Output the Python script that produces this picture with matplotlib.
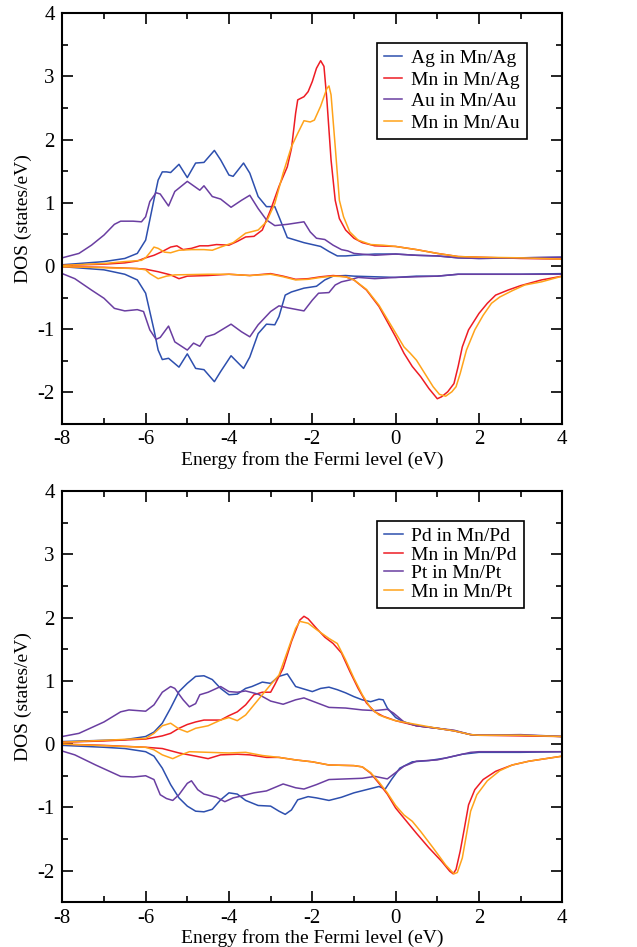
import numpy as np
import matplotlib
matplotlib.use("Agg")
import matplotlib.pyplot as plt
from matplotlib.ticker import MultipleLocator

plt.rcParams['font.family'] = ['Liberation Serif', 'DejaVu Serif']
plt.rcParams['axes.unicode_minus'] = False

# ---------------- top panel: Mn/Ag and Mn/Au ----------------
ag_up = [(-8, 0.02), (-7, 0.07), (-6.5, 0.12), (-6.2, 0.2), (-6.0, 0.41), (-5.8, 1.05), (-5.7, 1.36),
         (-5.6, 1.49), (-5.5, 1.49), (-5.4, 1.48), (-5.2, 1.61), (-5.0, 1.40), (-4.8, 1.63), (-4.6, 1.64),
         (-4.35, 1.83), (-4.2, 1.68), (-4.0, 1.44), (-3.9, 1.42), (-3.65, 1.63), (-3.5, 1.47), (-3.3, 1.10),
         (-3.1, 0.94), (-2.9, 0.94), (-2.8, 0.78), (-2.6, 0.45), (-2.4, 0.41), (-2.2, 0.37), (-2.0, 0.34),
         (-1.8, 0.31), (-1.6, 0.23), (-1.4, 0.16), (-1.2, 0.16), (-1.0, 0.17), (-0.5, 0.19), (0, 0.19),
         (0.5, 0.17), (1.0, 0.16), (1.5, 0.13), (2, 0.12), (3, 0.13), (4, 0.14)]
ag_dn = [(-8, -0.01), (-7, -0.06), (-6.5, -0.13), (-6.2, -0.22), (-6.0, -0.43), (-5.8, -1.01), (-5.7, -1.33),
         (-5.6, -1.48), (-5.45, -1.46), (-5.2, -1.60), (-5.0, -1.39), (-4.8, -1.62), (-4.6, -1.64),
         (-4.35, -1.83), (-4.2, -1.67), (-3.95, -1.42), (-3.65, -1.62), (-3.5, -1.44), (-3.3, -1.07),
         (-3.1, -0.92), (-2.9, -0.93), (-2.8, -0.80), (-2.65, -0.46), (-2.5, -0.41), (-2.2, -0.35),
         (-1.9, -0.32), (-1.7, -0.22), (-1.5, -0.16), (-1.2, -0.15), (-1.0, -0.16), (-0.5, -0.17),
         (0, -0.18), (0.5, -0.16), (1.0, -0.16), (1.5, -0.13), (2, -0.13), (3, -0.13), (4, -0.12)]
au_up = [(-8, 0.13), (-7.6, 0.20), (-7.3, 0.33), (-7.0, 0.49), (-6.75, 0.66), (-6.6, 0.71), (-6.3, 0.71),
         (-6.1, 0.70), (-6.0, 0.78), (-5.9, 1.02), (-5.75, 1.16), (-5.65, 1.14), (-5.45, 0.95), (-5.3, 1.18),
         (-5.0, 1.34), (-4.85, 1.27), (-4.7, 1.20), (-4.6, 1.27), (-4.4, 1.10), (-4.2, 1.06), (-3.95, 0.93),
         (-3.7, 1.04), (-3.5, 1.12), (-3.3, 0.91), (-3.1, 0.73), (-2.9, 0.64), (-2.6, 0.66), (-2.4, 0.68),
         (-2.2, 0.70), (-2.05, 0.54), (-1.9, 0.44), (-1.7, 0.42), (-1.5, 0.33), (-1.3, 0.26), (-1.15, 0.24),
         (-1.0, 0.20), (-0.5, 0.17), (0, 0.19), (0.5, 0.17), (1.0, 0.16), (1.5, 0.13), (2, 0.12), (3, 0.13),
         (4, 0.14)]
au_dn = [(-8, -0.12), (-7.7, -0.20), (-7.3, -0.38), (-7.0, -0.51), (-6.75, -0.67), (-6.5, -0.71),
         (-6.2, -0.69), (-6.05, -0.72), (-5.9, -1.01), (-5.75, -1.16), (-5.65, -1.13), (-5.45, -0.95),
         (-5.3, -1.20), (-5.0, -1.33), (-4.85, -1.22), (-4.7, -1.27), (-4.55, -1.12), (-4.35, -1.08),
         (-3.95, -0.92), (-3.7, -1.04), (-3.5, -1.12), (-3.3, -0.93), (-3.0, -0.72), (-2.8, -0.63),
         (-2.6, -0.66), (-2.2, -0.71), (-2.0, -0.54), (-1.85, -0.43), (-1.6, -0.42), (-1.45, -0.30),
         (-1.3, -0.25), (-1.1, -0.22), (-0.9, -0.18), (-0.5, -0.20), (0, -0.18), (0.5, -0.17), (1.0, -0.16),
         (1.5, -0.13), (2, -0.13), (3, -0.13), (4, -0.13)]
mnag_up = [(-8, 0.01), (-7, 0.03), (-6.5, 0.05), (-6.2, 0.08), (-6.0, 0.13), (-5.8, 0.17), (-5.6, 0.23),
           (-5.4, 0.30), (-5.25, 0.32), (-5.1, 0.26), (-4.9, 0.28), (-4.7, 0.32), (-4.5, 0.32), (-4.3, 0.34),
           (-4.0, 0.33), (-3.8, 0.39), (-3.6, 0.46), (-3.4, 0.47), (-3.2, 0.57), (-3.0, 0.89), (-2.8, 1.26),
           (-2.6, 1.57), (-2.5, 1.86), (-2.4, 2.42), (-2.35, 2.63), (-2.2, 2.68), (-2.1, 2.76), (-2.0, 2.92),
           (-1.9, 3.13), (-1.8, 3.25), (-1.72, 3.16), (-1.65, 2.63), (-1.55, 1.68), (-1.45, 1.04),
           (-1.35, 0.75), (-1.2, 0.57), (-1.0, 0.44), (-0.8, 0.37), (-0.5, 0.32), (0, 0.31), (0.5, 0.26),
           (1.0, 0.20), (1.5, 0.15), (2, 0.14), (3, 0.12), (4, 0.11)]
mnag_dn = [(-8, -0.01), (-7, -0.02), (-6.2, -0.04), (-6.0, -0.05), (-5.7, -0.09), (-5.4, -0.14),
           (-5.2, -0.20), (-5.0, -0.16), (-4.5, -0.15), (-4.0, -0.13), (-3.5, -0.15), (-3.0, -0.12),
           (-2.7, -0.16), (-2.4, -0.21), (-2.1, -0.20), (-1.8, -0.17), (-1.5, -0.15), (-1.2, -0.17),
           (-1.0, -0.22), (-0.7, -0.38), (-0.4, -0.64), (-0.2, -0.88), (0, -1.12), (0.2, -1.38), (0.4, -1.59),
           (0.6, -1.75), (0.8, -1.94), (1.0, -2.10), (1.1, -2.07), (1.25, -1.99), (1.4, -1.86), (1.5, -1.59),
           (1.6, -1.28), (1.75, -1.01), (2.0, -0.75), (2.2, -0.59), (2.4, -0.46), (2.7, -0.38), (3.0, -0.31),
           (3.5, -0.22), (4.0, -0.16)]
mnau_up = [(-8, 0.01), (-7, 0.04), (-6.5, 0.07), (-6.1, 0.09), (-6.0, 0.13), (-5.9, 0.21), (-5.8, 0.30),
           (-5.7, 0.28), (-5.55, 0.22), (-5.4, 0.21), (-5.2, 0.25), (-4.9, 0.26), (-4.6, 0.26), (-4.4, 0.25),
           (-4.2, 0.30), (-3.9, 0.37), (-3.6, 0.52), (-3.3, 0.57), (-3.1, 0.70), (-2.9, 0.99), (-2.7, 1.47),
           (-2.5, 1.89), (-2.35, 2.10), (-2.2, 2.30), (-2.05, 2.28), (-1.95, 2.31), (-1.8, 2.53),
           (-1.65, 2.81), (-1.6, 2.85), (-1.55, 2.71), (-1.45, 1.89), (-1.35, 1.04), (-1.25, 0.78),
           (-1.1, 0.54), (-0.9, 0.41), (-0.6, 0.34), (-0.3, 0.33), (0, 0.31), (0.5, 0.26), (1.0, 0.20),
           (1.5, 0.15), (2, 0.14), (3, 0.13), (4, 0.11)]
mnau_dn = [(-8, -0.01), (-6.2, -0.04), (-6.0, -0.06), (-5.9, -0.12), (-5.7, -0.20), (-5.5, -0.16),
           (-5.3, -0.14), (-4.5, -0.13), (-4.0, -0.13), (-3.5, -0.15), (-3.0, -0.13), (-2.7, -0.17),
           (-2.4, -0.22), (-2.1, -0.21), (-1.8, -0.18), (-1.5, -0.16), (-1.2, -0.17), (-1.0, -0.22),
           (-0.7, -0.37), (-0.4, -0.62), (-0.2, -0.84), (0, -1.06), (0.2, -1.28), (0.35, -1.38), (0.5, -1.49),
           (0.7, -1.70), (0.9, -1.91), (1.05, -2.03), (1.2, -2.06), (1.35, -1.99), (1.45, -1.91),
           (1.55, -1.70), (1.7, -1.33), (1.9, -1.01), (2.1, -0.78), (2.3, -0.59), (2.5, -0.49), (2.8, -0.39),
           (3.1, -0.30), (3.5, -0.25), (4.0, -0.16)]

# ---------------- bottom panel: Mn/Pd and Mn/Pt ----------------
pd_up = [(-8, 0.04), (-7, 0.06), (-6.5, 0.07), (-6.0, 0.12), (-5.8, 0.19), (-5.6, 0.33), (-5.4, 0.57),
         (-5.2, 0.83), (-5.0, 0.96), (-4.8, 1.07), (-4.6, 1.08), (-4.4, 1.02), (-4.2, 0.88), (-4.0, 0.78),
         (-3.8, 0.79), (-3.6, 0.88), (-3.45, 0.91), (-3.2, 0.98), (-3.0, 0.96), (-2.8, 1.07), (-2.6, 1.11),
         (-2.4, 0.91), (-2.2, 0.87), (-2.0, 0.83), (-1.8, 0.88), (-1.6, 0.90), (-1.4, 0.86), (-1.2, 0.81),
         (-1.0, 0.75), (-0.8, 0.70), (-0.6, 0.67), (-0.4, 0.71), (-0.3, 0.70), (-0.2, 0.57), (0, 0.42),
         (0.2, 0.35), (0.5, 0.29), (1.0, 0.25), (1.4, 0.21), (1.8, 0.15), (2.0, 0.14), (3.0, 0.14),
         (4.0, 0.12)]
pd_dn = [(-8, -0.02), (-7, -0.05), (-6.5, -0.07), (-6.0, -0.12), (-5.8, -0.19), (-5.6, -0.38),
         (-5.4, -0.64), (-5.2, -0.85), (-5.0, -0.98), (-4.8, -1.06), (-4.6, -1.07), (-4.4, -1.03),
         (-4.2, -0.88), (-4.0, -0.77), (-3.8, -0.79), (-3.6, -0.89), (-3.3, -0.97), (-3.0, -0.98),
         (-2.8, -1.06), (-2.65, -1.11), (-2.5, -1.04), (-2.35, -0.88), (-2.1, -0.83), (-1.9, -0.85),
         (-1.6, -0.89), (-1.3, -0.84), (-1.0, -0.77), (-0.7, -0.72), (-0.4, -0.67), (-0.25, -0.71),
         (-0.1, -0.56), (0.1, -0.38), (0.4, -0.28), (0.8, -0.26), (1.2, -0.22), (1.6, -0.16), (2.0, -0.13),
         (3.0, -0.13), (4.0, -0.12)]
pt_up = [(-8, 0.12), (-7.6, 0.17), (-7.0, 0.35), (-6.6, 0.51), (-6.4, 0.54), (-6.0, 0.52), (-5.8, 0.62),
         (-5.6, 0.82), (-5.4, 0.91), (-5.3, 0.88), (-5.1, 0.70), (-4.95, 0.59), (-4.8, 0.64), (-4.7, 0.78),
         (-4.5, 0.82), (-4.2, 0.91), (-4.0, 0.83), (-3.8, 0.82), (-3.6, 0.84), (-3.3, 0.79), (-3.0, 0.68),
         (-2.7, 0.63), (-2.4, 0.70), (-2.2, 0.73), (-2.0, 0.68), (-1.6, 0.58), (-1.2, 0.57), (-0.8, 0.54),
         (-0.5, 0.53), (-0.2, 0.55), (-0.05, 0.49), (0.2, 0.35), (0.5, 0.29), (1.0, 0.25), (1.4, 0.22),
         (1.8, 0.15), (2.0, 0.14), (3.0, 0.15), (4.0, 0.12)]
pt_dn = [(-8, -0.11), (-7.7, -0.17), (-7.2, -0.33), (-6.6, -0.51), (-6.3, -0.52), (-6.0, -0.50),
         (-5.8, -0.56), (-5.65, -0.80), (-5.5, -0.86), (-5.35, -0.89), (-5.2, -0.80), (-5.0, -0.62),
         (-4.9, -0.58), (-4.75, -0.72), (-4.6, -0.79), (-4.3, -0.84), (-4.1, -0.91), (-3.9, -0.85),
         (-3.7, -0.82), (-3.4, -0.77), (-3.1, -0.74), (-2.7, -0.63), (-2.4, -0.69), (-2.2, -0.71),
         (-1.9, -0.64), (-1.6, -0.56), (-1.2, -0.55), (-0.8, -0.54), (-0.5, -0.51), (-0.2, -0.55),
         (0, -0.45), (0.2, -0.35), (0.5, -0.27), (1.0, -0.25), (1.4, -0.19), (1.8, -0.13), (2.0, -0.12),
         (3.0, -0.12), (4.0, -0.12)]
mnpd_up = [(-8, 0.03), (-7, 0.05), (-6.0, 0.08), (-5.6, 0.13), (-5.4, 0.17), (-5.2, 0.25), (-5.0, 0.31),
           (-4.8, 0.35), (-4.6, 0.38), (-4.4, 0.38), (-4.2, 0.38), (-4.0, 0.45), (-3.8, 0.51), (-3.6, 0.62),
           (-3.4, 0.78), (-3.2, 0.82), (-3.0, 0.82), (-2.9, 0.94), (-2.7, 1.20), (-2.5, 1.62), (-2.3, 1.96),
           (-2.2, 2.02), (-2.1, 1.98), (-1.9, 1.83), (-1.7, 1.69), (-1.5, 1.59), (-1.3, 1.44), (-1.1, 1.15),
           (-0.9, 0.88), (-0.7, 0.65), (-0.5, 0.51), (-0.3, 0.44), (0, 0.37), (0.5, 0.29), (1.0, 0.25),
           (1.4, 0.21), (1.8, 0.15), (2.0, 0.14), (3.0, 0.13), (4.0, 0.12)]
mnpd_dn = [(-8, 0.0), (-7, -0.02), (-6.0, -0.05), (-5.6, -0.07), (-5.2, -0.14), (-4.8, -0.19),
           (-4.5, -0.23), (-4.2, -0.17), (-3.8, -0.16), (-3.5, -0.17), (-3.1, -0.21), (-2.8, -0.21),
           (-2.4, -0.25), (-2.0, -0.28), (-1.6, -0.33), (-1.0, -0.34), (-0.8, -0.36), (-0.6, -0.46),
           (-0.4, -0.62), (-0.2, -0.79), (0, -1.01), (0.2, -1.17), (0.5, -1.41), (0.8, -1.64), (1.1, -1.85),
           (1.3, -2.01), (1.38, -2.05), (1.45, -1.98), (1.55, -1.69), (1.65, -1.33), (1.75, -0.96),
           (1.9, -0.72), (2.1, -0.56), (2.4, -0.43), (2.8, -0.33), (3.2, -0.27), (3.6, -0.23), (4.0, -0.19)]
mnpt_up = [(-8, 0.03), (-6.0, 0.09), (-5.8, 0.17), (-5.6, 0.29), (-5.4, 0.33), (-5.2, 0.24), (-5.0, 0.19),
           (-4.8, 0.25), (-4.5, 0.29), (-4.2, 0.38), (-4.0, 0.42), (-3.8, 0.37), (-3.6, 0.46), (-3.4, 0.62),
           (-3.2, 0.78), (-3.0, 0.94), (-2.8, 1.09), (-2.6, 1.46), (-2.4, 1.83), (-2.3, 1.94), (-2.1, 1.91),
           (-1.9, 1.81), (-1.6, 1.67), (-1.4, 1.59), (-1.2, 1.33), (-1.0, 1.04), (-0.8, 0.78), (-0.6, 0.57),
           (-0.4, 0.46), (-0.2, 0.41), (0, 0.37), (0.5, 0.31), (1.0, 0.25), (1.4, 0.21), (1.8, 0.15),
           (2.0, 0.14), (3.0, 0.14), (4.0, 0.12)]
mnpt_dn = [(-8, 0.0), (-6.0, -0.05), (-5.8, -0.09), (-5.6, -0.17), (-5.35, -0.23), (-5.15, -0.17),
           (-4.95, -0.12), (-4.5, -0.13), (-4.0, -0.14), (-3.6, -0.13), (-3.2, -0.18), (-2.8, -0.21),
           (-2.4, -0.25), (-2.0, -0.28), (-1.6, -0.33), (-1.0, -0.34), (-0.8, -0.36), (-0.6, -0.45),
           (-0.4, -0.60), (-0.2, -0.77), (0, -0.97), (0.2, -1.12), (0.4, -1.22), (0.6, -1.38), (0.9, -1.64),
           (1.2, -1.91), (1.4, -2.05), (1.48, -2.03), (1.6, -1.80), (1.7, -1.43), (1.8, -1.06), (1.95, -0.80),
           (2.2, -0.58), (2.5, -0.42), (2.8, -0.33), (3.2, -0.27), (3.6, -0.23), (4.0, -0.19)]

top_labels = ["Ag in Mn/Ag", "Mn in Mn/Ag", "Au in Mn/Au", "Mn in Mn/Au"]
bot_labels = ["Pd in Mn/Pd", "Mn in Mn/Pd", "Pt in Mn/Pt", "Mn in Mn/Pt"]
colors = ["#2d4fae", "#ee1c24", "#6a3ea1", "#ffa31a"]

top_series = [(ag_up, ag_dn), (mnag_up, mnag_dn), (au_up, au_dn), (mnau_up, mnau_dn)]
bot_series = [(pd_up, pd_dn), (mnpd_up, mnpd_dn), (pt_up, pt_dn), (mnpt_up, mnpt_dn)]

W, H = 637, 947
fig = plt.figure(figsize=(W / 100, H / 100), dpi=100)
ax_top = fig.add_axes([62.3 / W, 1 - 424 / H, 500 / W, (424 - 13.3) / H])
ax_bot = fig.add_axes([62.3 / W, 1 - 902.3 / H, 500 / W, (902.3 - 491) / H])

panels = [(ax_top, top_series, top_labels, (0.929, 0.928), 0.2),
          (ax_bot, bot_series, bot_labels, (0.923, 0.928), 0.05)]
for ax, series, labels, anchor, lspace in panels:
    for (up, dn), lab, c in zip(series, labels, colors):
        u = np.array(up)
        d = np.array(dn)
        ax.plot(u[:, 0], u[:, 1], color=c, lw=1.1, label=lab)
        ax.plot(d[:, 0], d[:, 1], color=c, lw=1.1)
    ax.set_xlim(-8, 4)
    ax.set_ylim(-2.5, 4)
    ax.xaxis.set_major_locator(MultipleLocator(2))
    ax.xaxis.set_minor_locator(MultipleLocator(1))
    ax.yaxis.set_major_locator(MultipleLocator(1))
    ax.yaxis.set_minor_locator(MultipleLocator(0.5))
    ax.tick_params(which='both', direction='in', top=True, right=True, labelsize=15, width=1.2)
    ax.tick_params(which='major', length=8)
    ax.tick_params(which='minor', length=4)
    ax.tick_params(axis='x', which='major', pad=4.5)
    ax.tick_params(axis='y', which='major', pad=5.5)
    for s in ax.spines.values():
        s.set_linewidth(1.5)
    ax.set_xlabel("Energy from the Fermi level (eV)", fontsize=14, labelpad=1)
    ax.set_ylabel("DOS (states/eV)", fontsize=14, labelpad=4)
    leg = ax.legend(loc='upper right', bbox_to_anchor=anchor, borderaxespad=0, fontsize=14, frameon=True,
                    fancybox=False, edgecolor='black', framealpha=1, handlelength=0.95,
                    labelspacing=lspace, borderpad=0.35, handletextpad=0.46)
    leg.get_frame().set_linewidth(1.2)

fig.savefig("out.png", dpi=100)
